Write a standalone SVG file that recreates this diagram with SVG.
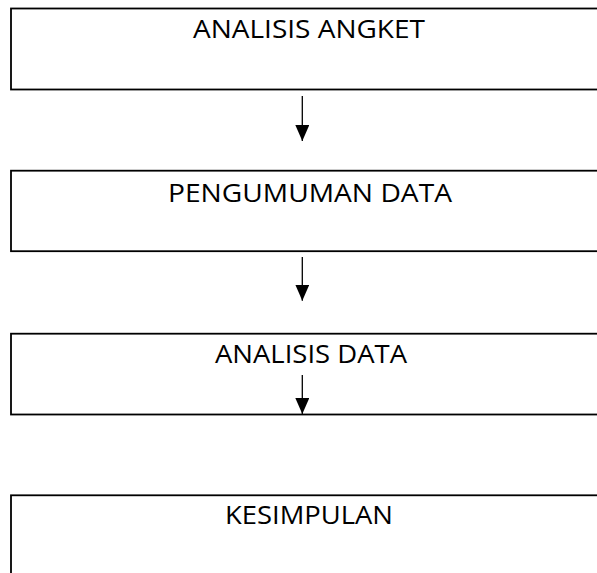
<svg xmlns="http://www.w3.org/2000/svg" width="597" height="573" viewBox="0 0 597 573">
<style>
.box{fill:#fff;stroke:#000;stroke-width:1.8}
.lbl{font-family:"Open Sans","Liberation Sans",sans-serif;font-size:25.5px;fill:#000;text-anchor:middle}
.conn{stroke:#000;stroke-width:1.3;fill:none;marker-end:url(#ah)}
</style>
<defs>
<marker id="ah" markerUnits="userSpaceOnUse" markerWidth="16" markerHeight="18" viewBox="0 0 16 18" refX="16" refY="7" orient="auto">
<path d="M0,0 L16,7 L0,14 Z" fill="#000"/>
</marker>
</defs>
<rect width="597" height="573" fill="#fff"/>
<g id="node-analisis-angket">
<rect class="box" x="11" y="8.5" width="610" height="81"/>
<text class="lbl" x="309" y="38.3" textLength="232" lengthAdjust="spacingAndGlyphs">ANALISIS ANGKET</text>
</g>
<g id="node-pengumuman-data">
<rect class="box" x="11" y="170.7" width="610" height="80.5"/>
<text class="lbl" x="310" y="201.7" textLength="284" lengthAdjust="spacingAndGlyphs">PENGUMUMAN DATA</text>
</g>
<g id="node-analisis-data">
<rect class="box" x="11" y="333.7" width="610" height="80.8"/>
<text class="lbl" x="311" y="363.3" textLength="192" lengthAdjust="spacingAndGlyphs">ANALISIS DATA</text>
</g>
<g id="node-kesimpulan">
<rect class="box" x="11" y="495.3" width="610" height="100"/>
<text class="lbl" x="309" y="524" textLength="168" lengthAdjust="spacingAndGlyphs">KESIMPULAN</text>
</g>
<g id="connectors">
<line class="conn" x1="302.3" y1="96" x2="302.3" y2="141"/>
<line class="conn" x1="302.3" y1="257" x2="302.3" y2="300.7"/>
<line class="conn" x1="302.3" y1="375" x2="302.3" y2="414"/>
</g>
</svg>
